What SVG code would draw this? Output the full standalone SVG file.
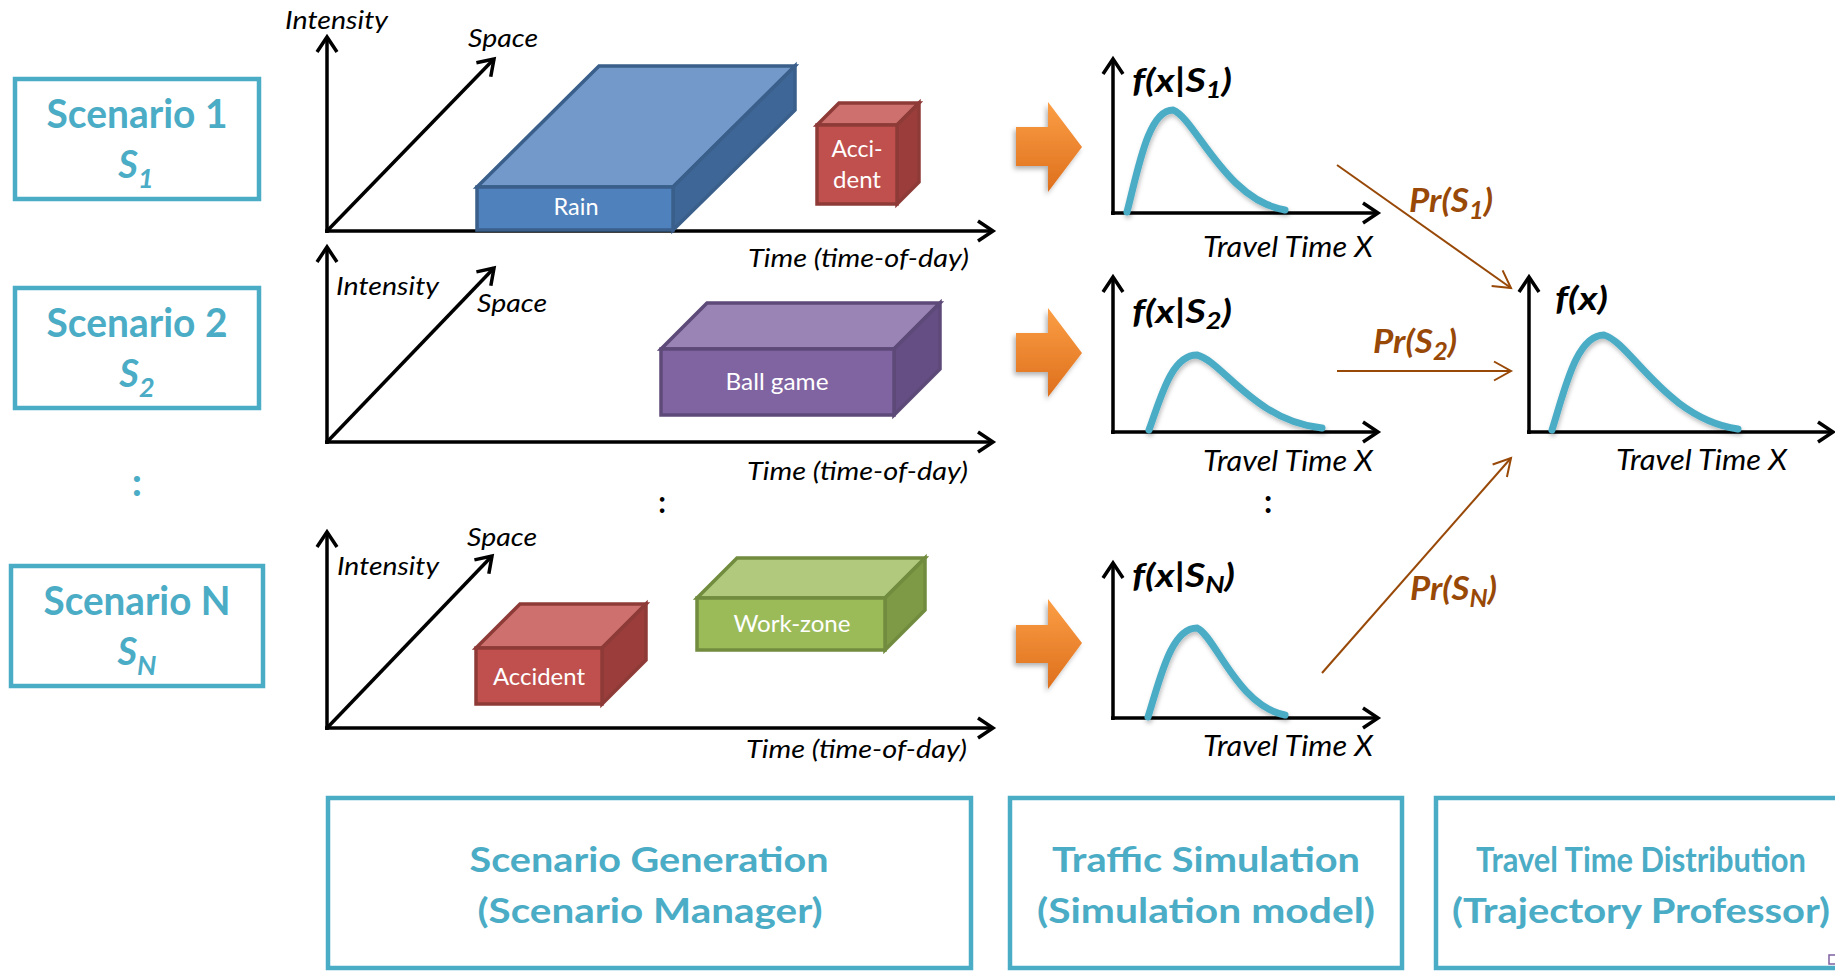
<svg xmlns="http://www.w3.org/2000/svg" width="1835" height="972" viewBox="0 0 1835 972">
  <defs>
    <style>
      .frame { fill: #fff; stroke: #4BACC6; stroke-width: 4.5; }
      .axis { fill: none; stroke: #000; stroke-width: 3.5; marker-end: url(#ah); }
      .prob { fill: none; stroke: #984807; stroke-width: 2; marker-end: url(#bh); }
      .pdf { fill: none; stroke: #4BACC6; stroke-width: 7; stroke-linecap: round; filter: url(#soft); }
      .t { font-family: Lato, "Open Sans", "Liberation Sans", sans-serif; }
      .ax { font-style: italic; font-size: 26px; fill: #000; }
      .tt { font-style: italic; font-size: 28px; fill: #000; }
      .fx { font-style: italic; font-weight: bold; font-size: 32px; fill: #000; }
      .pr { font-style: italic; font-weight: bold; font-size: 33px; fill: #984807; }
      .sc { font-weight: bold; font-size: 40px; fill: #4BACC6; text-anchor: middle; }
      .ss { font-style: italic; font-weight: bold; font-size: 38px; fill: #4BACC6; text-anchor: middle; }
      .bt { font-weight: bold; font-size: 34px; fill: #4BACC6; text-anchor: middle; }
      .lb { font-size: 24px; fill: #fff; text-anchor: middle; }
      .blue { stroke: #3A5F8B; stroke-width: 3.5; stroke-linejoin: miter; }
      .red { stroke: #8E3B38; stroke-width: 3.5; stroke-linejoin: miter; }
      .purple { stroke: #5D4A78; stroke-width: 3.5; stroke-linejoin: miter; }
      .green { stroke: #728C3F; stroke-width: 3.5; stroke-linejoin: miter; }
      .step { fill: url(#orange); filter: url(#shade); }
    </style>
    <marker id="ah" markerUnits="userSpaceOnUse" markerWidth="40" markerHeight="40" viewBox="-20 -20 40 40" refX="0" refY="0" orient="auto">
      <path d="M-15,-10 L0,0 L-15,10" fill="none" stroke="#000" stroke-width="3.5"/>
    </marker>
    <marker id="bh" markerUnits="userSpaceOnUse" markerWidth="40" markerHeight="40" viewBox="-20 -20 40 40" refX="0" refY="0" orient="auto">
      <path d="M-17,-9.5 L0,0 L-17,9.5" fill="none" stroke="#984807" stroke-width="2"/>
    </marker>
    <linearGradient id="orange" x1="0" y1="0" x2="0" y2="1">
      <stop offset="0" stop-color="#FB9E45"/>
      <stop offset="1" stop-color="#DE6F1C"/>
    </linearGradient>
    <filter id="shade" x="-30%" y="-30%" width="160%" height="160%">
      <feDropShadow dx="-2" dy="3" stdDeviation="2.5" flood-color="#000" flood-opacity="0.3"/>
    </filter>
    <filter id="soft" x="-10%" y="-10%" width="120%" height="130%">
      <feDropShadow dx="1" dy="3" stdDeviation="2" flood-color="#000" flood-opacity="0.25"/>
    </filter>
  </defs>

  <rect width="1835" height="972" fill="#fff"/>

  <!-- scenario labels on the left -->
  <g id="scenario-1">
    <rect class="frame" x="15" y="79" width="244" height="120"/>
    <text class="t sc" x="137" y="128" textLength="181" lengthAdjust="spacingAndGlyphs">Scenario 1</text>
    <text class="t ss" x="136" y="178">S<tspan dy="10" font-size="27">1</tspan></text>
  </g>
  <g id="scenario-2">
    <rect class="frame" x="15" y="288" width="244" height="120"/>
    <text class="t sc" x="137" y="337" textLength="181" lengthAdjust="spacingAndGlyphs">Scenario 2</text>
    <text class="t ss" x="137" y="387">S<tspan dy="10" font-size="27">2</tspan></text>
  </g>
  <text id="scenario-ellipsis" class="t sc" x="137" y="496" font-size="34">:</text>
  <g id="scenario-n">
    <rect class="frame" x="11" y="566" width="252" height="120"/>
    <text class="t sc" x="137" y="615" textLength="187" lengthAdjust="spacingAndGlyphs">Scenario N</text>
    <text class="t ss" x="137" y="665">S<tspan dy="10" font-size="27">N</tspan></text>
  </g>

  <!-- scenario 1 plot: rain + accident -->
  <g id="plot-1">
    <path class="axis" d="M327,233 L327,37"/>
    <path class="axis" d="M325,231 L993,231"/>
    <path class="axis" d="M327,231 L494,59"/>
    <text class="t ax" x="285" y="29" textLength="103" lengthAdjust="spacingAndGlyphs">Intensity</text>
    <text class="t ax" x="468" y="47" textLength="70" lengthAdjust="spacingAndGlyphs">Space</text>
    <text class="t ax" x="969" y="267" text-anchor="end" textLength="221" lengthAdjust="spacingAndGlyphs">Time (time-of-day)</text>
  </g>
  <g id="event-rain">
    <polygon class="blue" fill="#7299CA" points="477,187 599,66 795,66 673,187"/>
    <polygon class="blue" fill="#3E6797" points="673,187 795,66 795,110 673,230"/>
    <rect class="blue" fill="#4F81BD" x="477" y="187" width="196" height="43"/>
    <text class="t lb" x="576" y="215" textLength="45" lengthAdjust="spacingAndGlyphs">Rain</text>
  </g>
  <g id="event-accident-1">
    <polygon class="red" fill="#CE716E" points="817,125 839,103 919,103 897,125"/>
    <polygon class="red" fill="#9A3D3B" points="897,125 919,103 919,182 897,204"/>
    <rect class="red" fill="#C0504D" x="817" y="125" width="80" height="79"/>
    <text class="t lb" x="857" y="157" textLength="51" lengthAdjust="spacingAndGlyphs">Acci-</text>
    <text class="t lb" x="857" y="188" textLength="48" lengthAdjust="spacingAndGlyphs">dent</text>
  </g>

  <!-- scenario 2 plot: ball game -->
  <g id="plot-2">
    <path class="axis" d="M327,444 L327,247"/>
    <path class="axis" d="M325,442 L993,442"/>
    <path class="axis" d="M327,442 L494,268"/>
    <text class="t ax" x="336" y="295" textLength="103" lengthAdjust="spacingAndGlyphs">Intensity</text>
    <text class="t ax" x="477" y="312" textLength="70" lengthAdjust="spacingAndGlyphs">Space</text>
    <text class="t ax" x="968" y="480" text-anchor="end" textLength="221" lengthAdjust="spacingAndGlyphs">Time (time-of-day)</text>
  </g>
  <g id="event-ballgame">
    <polygon class="purple" fill="#9A83B5" points="661,349 707,303 940,303 894,349"/>
    <polygon class="purple" fill="#654E84" points="894,349 940,303 940,369 894,415"/>
    <rect class="purple" fill="#8064A2" x="661" y="349" width="233" height="66"/>
    <text class="t lb" x="777" y="390" textLength="103" lengthAdjust="spacingAndGlyphs">Ball game</text>
  </g>

  <text id="plot-ellipsis" class="t" x="662" y="513" font-size="30" font-weight="bold" text-anchor="middle">:</text>

  <!-- scenario N plot: accident + work zone -->
  <g id="plot-n">
    <path class="axis" d="M327,730 L327,532"/>
    <path class="axis" d="M325,728 L993,728"/>
    <path class="axis" d="M327,728 L492,556"/>
    <text class="t ax" x="337" y="575" textLength="102" lengthAdjust="spacingAndGlyphs">Intensity</text>
    <text class="t ax" x="467" y="546" textLength="70" lengthAdjust="spacingAndGlyphs">Space</text>
    <text class="t ax" x="967" y="758" text-anchor="end" textLength="221" lengthAdjust="spacingAndGlyphs">Time (time-of-day)</text>
  </g>
  <g id="event-accident-n">
    <polygon class="red" fill="#CE716E" points="476,648 520,604 646,604 602,648"/>
    <polygon class="red" fill="#9A3D3B" points="602,648 646,604 646,660 602,704"/>
    <rect class="red" fill="#C0504D" x="476" y="648" width="126" height="56"/>
    <text class="t lb" x="539" y="685" textLength="92" lengthAdjust="spacingAndGlyphs">Accident</text>
  </g>
  <g id="event-workzone">
    <polygon class="green" fill="#B0C97C" points="697,598 737,558 925,558 885,598"/>
    <polygon class="green" fill="#7E9A46" points="885,598 925,558 925,610 885,650"/>
    <rect class="green" fill="#9BBB59" x="697" y="598" width="188" height="52"/>
    <text class="t lb" x="792" y="632" textLength="117" lengthAdjust="spacingAndGlyphs">Work-zone</text>
  </g>

  <!-- simulation step arrows -->
  <g id="step-1"><polygon class="step" points="1016,127 1048,127 1048,102 1082,147 1048,192 1048,166 1016,166"/></g>
  <g id="step-2"><polygon class="step" points="1016,333 1048,333 1048,308 1082,353 1048,397 1048,372 1016,372"/></g>
  <g id="step-n"><polygon class="step" points="1016,625 1048,625 1048,599 1082,643 1048,689 1048,663 1016,663"/></g>

  <!-- conditional travel time distributions -->
  <g id="pdf-1">
    <path class="axis" d="M1113,215 L1113,59"/>
    <path class="axis" d="M1111,213 L1378,213"/>
    <path class="pdf" d="M1127,212 C1138,170 1148,110 1173,110 C1195,118 1225,200 1285,210"/>
    <text class="t fx" x="1132" y="92" textLength="100" lengthAdjust="spacingAndGlyphs">f(x|S<tspan dy="6" font-size="22">1</tspan><tspan dy="-6">)</tspan></text>
    <text class="t tt" x="1373" y="257" text-anchor="end" textLength="170" lengthAdjust="spacingAndGlyphs">Travel Time X</text>
  </g>
  <g id="pdf-2">
    <path class="axis" d="M1113,434 L1113,277"/>
    <path class="axis" d="M1111,432 L1378,432"/>
    <path class="pdf" d="M1149,430 C1160.5,399 1171,355 1197,355 C1222,361 1254.5,421 1322,428"/>
    <text class="t fx" x="1132" y="323" textLength="100" lengthAdjust="spacingAndGlyphs">f(x|S<tspan dy="6" font-size="22">2</tspan><tspan dy="-6">)</tspan></text>
    <text class="t tt" x="1373" y="471" text-anchor="end" textLength="170" lengthAdjust="spacingAndGlyphs">Travel Time X</text>
  </g>
  <text id="pdf-ellipsis" class="t" x="1268" y="513" font-size="32" font-weight="bold" text-anchor="middle">:</text>
  <g id="pdf-n">
    <path class="axis" d="M1113,720 L1113,563"/>
    <path class="axis" d="M1111,718 L1378,718"/>
    <path class="pdf" d="M1148,717 C1159.8,680.5 1170.5,628 1197,628 C1214.6,635 1237.5,706 1285,715"/>
    <text class="t fx" x="1132" y="587" textLength="103" lengthAdjust="spacingAndGlyphs">f(x|S<tspan dy="6" font-size="22">N</tspan><tspan dy="-6">)</tspan></text>
    <text class="t tt" x="1373" y="756" text-anchor="end" textLength="170" lengthAdjust="spacingAndGlyphs">Travel Time X</text>
  </g>

  <!-- combined travel time distribution -->
  <g id="pdf-total">
    <path class="axis" d="M1529,434 L1529,277"/>
    <path class="axis" d="M1527,432 L1833,432"/>
    <path class="pdf" d="M1552,430 C1564.5,391 1576,335 1604,335 C1630.8,342.6 1665.6,418.6 1738,429"/>
    <text class="t fx" x="1555" y="310" textLength="53" lengthAdjust="spacingAndGlyphs">f(x)</text>
    <text class="t tt" x="1787" y="470" text-anchor="end" textLength="171" lengthAdjust="spacingAndGlyphs">Travel Time X</text>
  </g>

  <!-- weighted connectors -->
  <g id="connectors">
    <path class="prob" d="M1337,165 L1511,288"/>
    <path class="prob" d="M1337,371 L1511,371"/>
    <path class="prob" d="M1322,673 L1511,458"/>
    <text class="t pr" x="1409" y="212" textLength="84" lengthAdjust="spacingAndGlyphs">Pr(S<tspan dy="7" font-size="24">1</tspan><tspan dy="-7">)</tspan></text>
    <text class="t pr" x="1373" y="353" textLength="84" lengthAdjust="spacingAndGlyphs">Pr(S<tspan dy="7" font-size="24">2</tspan><tspan dy="-7">)</tspan></text>
    <text class="t pr" x="1410" y="600" textLength="87" lengthAdjust="spacingAndGlyphs">Pr(S<tspan dy="7" font-size="24">N</tspan><tspan dy="-7">)</tspan></text>
  </g>

  <!-- module boxes along the bottom -->
  <g id="module-scenario">
    <rect class="frame" x="328" y="798" width="643" height="170"/>
    <text class="t bt" x="649" y="872" textLength="359" lengthAdjust="spacingAndGlyphs">Scenario Generation</text>
    <text class="t bt" x="650" y="923" textLength="345" lengthAdjust="spacingAndGlyphs">(Scenario Manager)</text>
  </g>
  <g id="module-simulation">
    <rect class="frame" x="1010" y="798" width="392" height="170"/>
    <text class="t bt" x="1206" y="872" textLength="308" lengthAdjust="spacingAndGlyphs">Traffic Simulation</text>
    <text class="t bt" x="1206" y="923" textLength="338" lengthAdjust="spacingAndGlyphs">(Simulation model)</text>
  </g>
  <g id="module-distribution">
    <rect class="frame" x="1436" y="798" width="420" height="170"/>
    <text class="t bt" x="1641" y="872" textLength="330" lengthAdjust="spacingAndGlyphs">Travel Time Distribution</text>
    <text class="t bt" x="1641" y="923" textLength="378" lengthAdjust="spacingAndGlyphs">(Trajectory Professor)</text>
  </g>

  <rect x="1829" y="955" width="7" height="9" fill="none" stroke="#7F5FA0" stroke-width="1.5"/>
</svg>
